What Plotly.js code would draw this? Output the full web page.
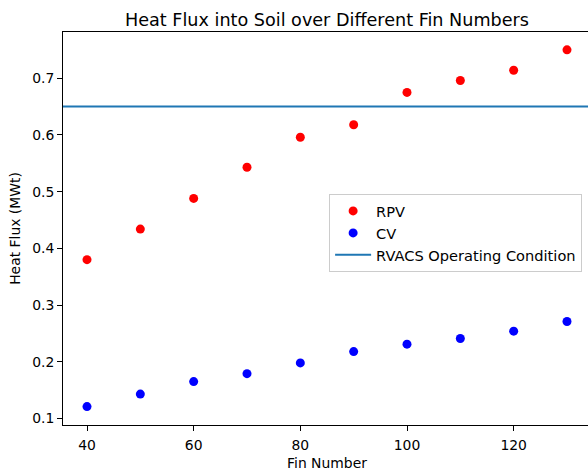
<!DOCTYPE html>
<html>
<head>
<meta charset="utf-8">
<script src="https://cdn.plot.ly/plotly-3.0.1.min.js"></script>
<style>
  html, body { margin: 0; padding: 0; overflow: hidden; background: #fff; }
</style>
</head>
<body>
<div id="chart"></div>
<script>
// Fin counts on the x axis
const finNumbers = [40, 50, 60, 70, 80, 90, 100, 110, 120, 130];
// Heat flux into soil (MWt) for each vessel
const rpvFlux = [0.380, 0.434, 0.488, 0.543, 0.596, 0.618, 0.675, 0.696, 0.714, 0.750];
const cvFlux  = [0.121, 0.143, 0.165, 0.179, 0.198, 0.218, 0.231, 0.241, 0.254, 0.271];
// RVACS operating condition reference level (MWt)
const operatingLevel = 0.65;

// Axis limits with a 5% margin around the data
const xRange = [35.5, 134.5];
const yRange = [0.0885, 0.7815];
const xTicks = [40, 60, 80, 100, 120];
const yTicks = [0.1, 0.2, 0.3, 0.4, 0.5, 0.6, 0.7];

const font = "DejaVu Sans, Liberation Sans, sans-serif";

const traces = [
  {
    x: finNumbers, y: rpvFlux, name: "RPV",
    type: "scatter", mode: "markers",
    marker: { color: "#ff0000", size: 9 }
  },
  {
    x: finNumbers, y: cvFlux, name: "CV",
    type: "scatter", mode: "markers",
    marker: { color: "#0000ff", size: 9 }
  },
  {
    // horizontal reference line spanning the full x axis
    x: xRange, y: [operatingLevel, operatingLevel],
    name: "RVACS Operating Condition",
    type: "scatter", mode: "lines",
    line: { color: "#1f77b4", width: 2 }
  }
];

const axisCommon = {
  showline: true, linecolor: "#000", linewidth: 1, mirror: true,
  ticks: "outside", ticklen: 5, tickwidth: 1, tickcolor: "#000",
  showgrid: false, zeroline: false,
  tickfont: { family: font, size: 13.9, color: "#000" }
};

const layout = {
  width: 593, height: 472,
  margin: { l: 63, r: 2, t: 32, b: 47 },
  paper_bgcolor: "#fff", plot_bgcolor: "#fff",
  font: { family: font, color: "#000" },
  title: {
    text: "Heat Flux into Soil over Different Fin Numbers",
    font: { family: font, size: 17.6, color: "#000" },
    x: (63 + 591) / 2 / 593, xanchor: "center",
    y: 0.958, yanchor: "middle"
  },
  xaxis: Object.assign({}, axisCommon, {
    range: xRange, tickvals: xTicks, ticktext: xTicks.map(String),
    ticklabelstandoff: 2,
    title: { text: "Fin Number", font: { family: font, size: 13.9, color: "#000" }, standoff: 6 }
  }),
  yaxis: Object.assign({}, axisCommon, {
    range: yRange, tickvals: yTicks, ticktext: yTicks.map(v => v.toFixed(1)),
    title: { text: "Heat Flux (MWt)", font: { family: font, size: 13.9, color: "#000" }, standoff: 8 }
  }),
  showlegend: true,
  legend: {
    x: 0.504, y: 0.588, xanchor: "left", yanchor: "top",
    bgcolor: "#fff", bordercolor: "#cccccc", borderwidth: 1,
    font: { family: font, size: 14.6, color: "#000" },
    itemwidth: 36,
    tracegroupgap: 0
  }
};

Plotly.newPlot("chart", traces, layout, { displayModeBar: false, staticPlot: true });
</script>
</body>
</html>
